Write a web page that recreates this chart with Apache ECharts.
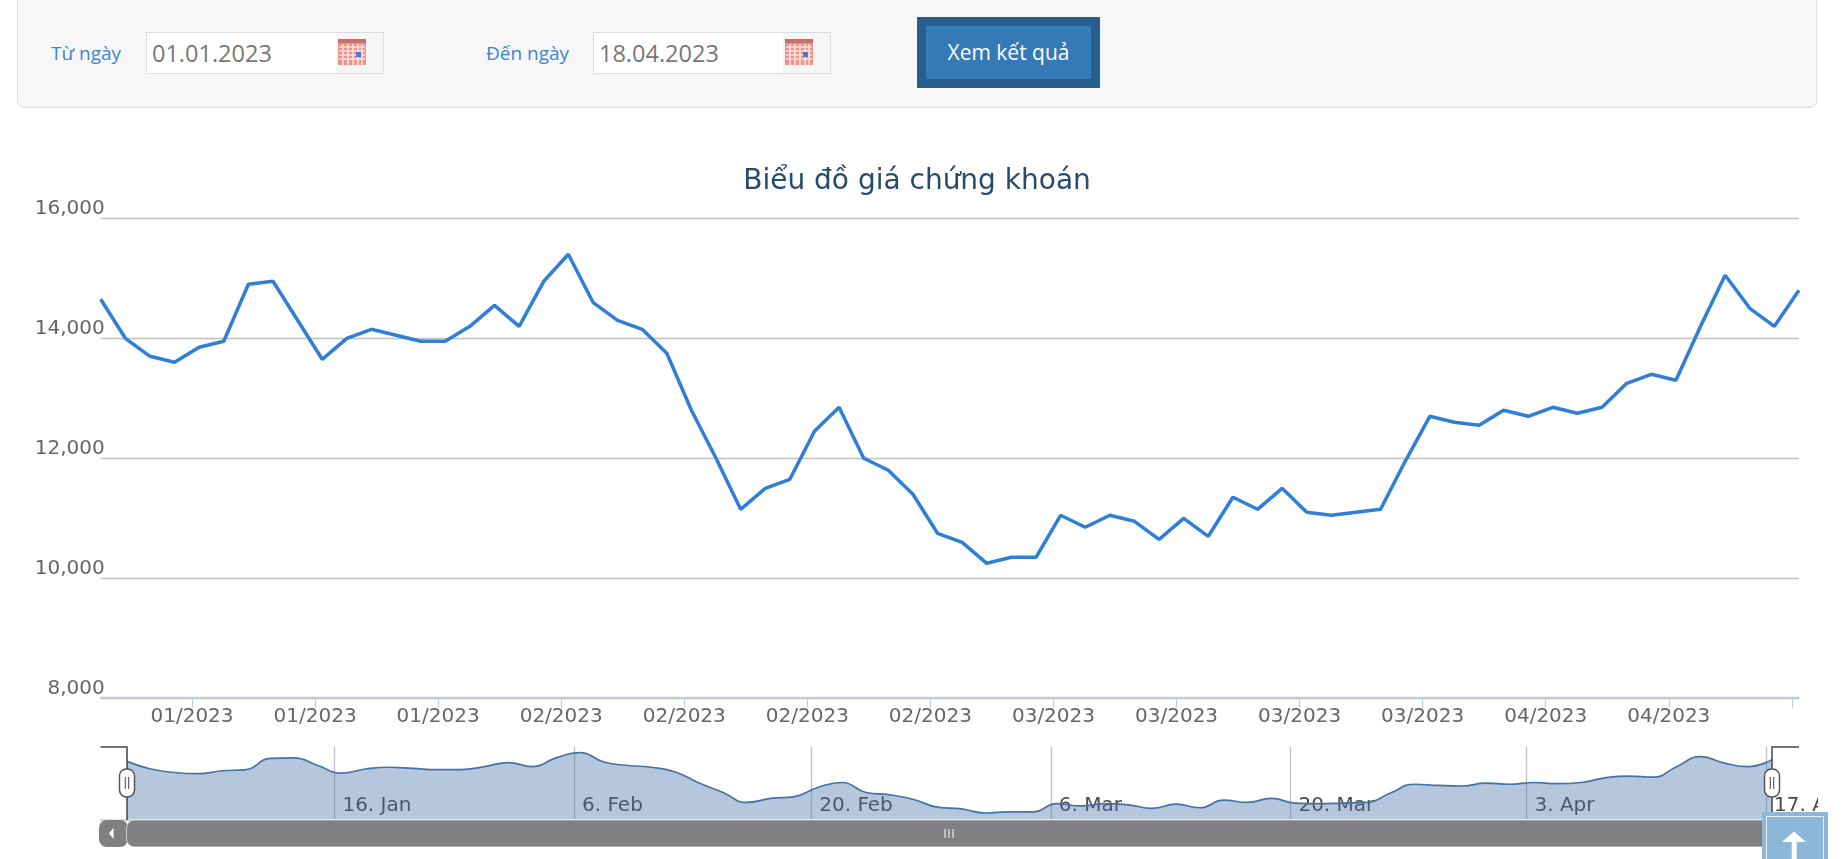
<!DOCTYPE html>
<html lang="vi">
<head>
<meta charset="UTF-8">
<title>Biểu đồ giá chứng khoán</title>
<style>
    html, body { margin: 0; padding: 0; background: #fff; overflow: hidden; }
    body { width: 1845px; height: 859px; position: relative; font-family: "Open Sans", "Noto Sans", sans-serif; }
    #filter { position: absolute; left: 17px; top: -10px; width: 1798px; height: 116px; background: #f7f7f7;
        border: 1px solid #ddd; border-radius: 7px; }
    .lbl { position: absolute; top: 41px; font-size: 19px; line-height: 24px; color: #3a86d2; white-space: nowrap; }
    .inp { position: absolute; top: 32px; width: 236px; height: 40px; background: #fff; border: 1px solid #ddd;
        font-size: 23.5px; line-height: 40px; color: #777; text-indent: 5px; }
    .inp .cal { position: absolute; right: 0; top: 0; width: 47px; height: 40px; background: #f5f5f5; }
    .inp svg { position: absolute; left: 1px; top: 5px; }
    #btn { position: absolute; left: 917px; top: 17px; width: 165px; height: 53px; border: 9px solid #285e8e;
        background: #337ab7; color: #fff; font-size: 21px; line-height: 53px; text-align: center; }
    #main { position: absolute; left: 0; top: 0; width: 1818px; height: 859px; }
    #totop { position: absolute; left: 1762px; top: 812px; width: 66px; height: 47px; background: #8cb7d8; }
    #totop i { position: absolute; left: 4px; top: 4px; width: 56px; height: 60px; border: 1.5px solid #e4eff6; }
    #totop svg { position: absolute; left: 0; top: 0; }
</style>
</head>
<body>
<div id="main"></div>
<div id="filter"></div>
<div class="lbl" style="left:51px">Từ ngày</div>
<div class="inp" style="left:146px">01.01.2023<span class="cal"><svg width="30" height="28"><rect x="1" y="1" width="28" height="26" rx="1" fill="#ee938b"/><rect x="1" y="1" width="28" height="4" fill="#c9706a"/><path d="M2 9h26M2 13h26M2 17h26M2 21h26M6 6v21M11 6v21M16 6v21M21 6v21M25 6v21" stroke="#fde0dc" stroke-width="1.6"/><rect x="19" y="14" width="5" height="5" fill="#4a78d0"/></svg></span></div>
<div class="lbl" style="left:486px">Đến ngày</div>
<div class="inp" style="left:593px">18.04.2023<span class="cal"><svg width="30" height="28"><rect x="1" y="1" width="28" height="26" rx="1" fill="#ee938b"/><rect x="1" y="1" width="28" height="4" fill="#c9706a"/><path d="M2 9h26M2 13h26M2 17h26M2 21h26M6 6v21M11 6v21M16 6v21M21 6v21M25 6v21" stroke="#fde0dc" stroke-width="1.6"/><rect x="19" y="14" width="5" height="5" fill="#4a78d0"/></svg></span></div>
<div id="btn">Xem kết quả</div>
<div id="totop"><i></i><svg width="66" height="47"><path d="M32 19.5 L44 30 L34.7 30 L34.7 47 L29.7 47 L29.7 30 L20 30 Z" fill="#fff"/></svg></div>
<script src="https://cdn.jsdelivr.net/npm/echarts@6/dist/echarts.min.js"></script>
<script>
    var prices = [14650, 14000, 13700, 13600, 13850, 13950, 14900, 14950, 14300, 13650,
        14000, 14150, 14050, 13950, 13950, 14200, 14550, 14200, 14950, 15400,
        14600, 14300, 14150, 13750, 12800, 12000, 11150, 11500, 11650, 12450,
        12850, 12000, 11800, 11400, 10750, 10600, 10250, 10350, 10350, 11050,
        10850, 11050, 10950, 10650, 11000, 10700, 11350, 11150, 11500, 11100,
        11050, 11100, 11150, 11950, 12700, 12600, 12550, 12800, 12700, 12850,
        12750, 12850, 13250, 13400, 13300, 14200, 15050, 14500, 14200, 14800];
    // truc thoi gian dang ordinal nen tick khong trung diem du lieu
    var xTicks = [3.71, 8.71, 13.71, 18.71, 23.71, 28.71, 33.71, 38.71, 43.71, 48.71, 53.71, 58.71, 63.71, 68.71];
    var xLabels = ['01/2023', '01/2023', '01/2023', '02/2023', '02/2023', '02/2023', '02/2023',
        '03/2023', '03/2023', '03/2023', '03/2023', '04/2023', '04/2023'];
    var navTicks = [8.7, 18.75, 28.7, 38.75, 48.8, 58.7, 68.75];
    var navLabels = ['16. Jan', '6. Feb', '20. Feb', '6. Mar', '20. Mar', '3. Apr', '17. Apr'];

    var axisFont = '"DejaVu Sans", sans-serif';
    var lineData = prices.map(function (v, i) { return [i, v]; });

    var myChart = echarts.init(document.getElementById('main'));

    function handle(x) {
        return [
            { type: 'rect', shape: { x: x - 7.5, y: 769, width: 15, height: 28, r: 7 }, style: { fill: '#fff', stroke: '#555', lineWidth: 1.5 }, z: 20 },
            { type: 'line', shape: { x1: x - 1.7, y1: 777, x2: x - 1.7, y2: 789 }, style: { stroke: '#555', lineWidth: 1.1 }, z: 21 },
            { type: 'line', shape: { x1: x + 1.7, y1: 777, x2: x + 1.7, y2: 789 }, style: { stroke: '#555', lineWidth: 1.1 }, z: 21 }
        ];
    }

    var option = {
        animation: false,
        title: {
            text: 'Biểu đồ giá chứng khoán',
            left: 912, top: 177, textAlign: 'center', textVerticalAlign: 'middle',
            textStyle: { color: '#274b6d', fontFamily: axisFont, fontSize: 28, fontWeight: 'normal' }
        },
        grid: [
            { left: 100.7, right: 19, top: 218.3, height: 480, outerBoundsMode: 'none' },
            { left: 127, right: 46, top: 747, height: 72, outerBoundsMode: 'none' }
        ],
        xAxis: [{
            type: 'value', gridIndex: 0, min: 0, max: 69, offset: -1.5,
            splitLine: { show: false },
            axisLine: { onZero: false, lineStyle: { color: '#c0d0e0', width: 1.4 } },
            axisTick: { length: 11, customValues: xTicks, lineStyle: { color: '#c0d0e0', width: 1.3 } },
            axisLabel: {
                customValues: xTicks.slice(0, xLabels.length), margin: 10, hideOverlap: false,
                color: '#666', fontFamily: axisFont, fontSize: 20,
                formatter: function (v) { return xLabels[xTicks.indexOf(v)]; }
            }
        }, {
            // vach va nhan cua navigator
            type: 'value', gridIndex: 1, min: 0, max: 69,
            axisLine: { show: false },
            axisTick: { show: true, inside: true, length: 72, customValues: navTicks, lineStyle: { color: '#c0c0c0', width: 1.3 } },
            splitLine: { show: false },
            axisLabel: {
                inside: true, customValues: navTicks, margin: 3, align: 'left', padding: [0, 0, 0, 8],
                color: '#4a4a4a', fontFamily: axisFont, fontSize: 20, showMaxLabel: true, hideOverlap: false,
                formatter: function (v) { return navLabels[navTicks.indexOf(v)]; }
            }
        }],
        yAxis: [{
            type: 'value', gridIndex: 0, min: 8000, max: 16000, interval: 2000,
            axisLine: { show: false },
            axisTick: { show: false },
            splitLine: { lineStyle: { color: '#c0c0c0', width: 1.3 } },
            axisLabel: {
                color: '#666', fontFamily: axisFont, fontSize: 20, margin: -4, verticalAlign: 'bottom', lineHeight: 20,
                formatter: function (v) { return v.toLocaleString('en-US'); }
            }
        }, {
            type: 'value', gridIndex: 1, min: 9740, max: 15875,
            axisLine: { show: false }, axisTick: { show: false },
            axisLabel: { show: false }, splitLine: { show: false }
        }],
        series: [{
            type: 'line', xAxisIndex: 0, yAxisIndex: 0, data: lineData, showSymbol: false,
            lineStyle: { color: '#2f7ed8', width: 3.5 }, clip: true
        }, {
            type: 'line', xAxisIndex: 1, yAxisIndex: 1, data: lineData, showSymbol: false, smooth: 0.5,
            lineStyle: { color: '#4572a7', width: 1.7 },
            areaStyle: { color: 'rgba(69,114,167,0.4)', opacity: 1 }, z: 5
        }],
        graphic: [
            // khung va thanh cuon navigator
            { type: 'polyline', shape: { points: [[100.7, 747], [127, 747], [127, 820]] }, style: { fill: null, stroke: '#444', lineWidth: 1.5 }, z: 15 },
            { type: 'polyline', shape: { points: [[1799, 747], [1772, 747], [1772, 820]] }, style: { fill: null, stroke: '#444', lineWidth: 1.5 }, z: 15 },
            { type: 'rect', shape: { x: 100, y: 819.5, width: 1699, height: 1.5 }, style: { fill: '#c4c4c4' }, z: 9 },
            { type: 'rect', shape: { x: 99, y: 820, width: 29, height: 27, r: 8 }, style: { fill: '#808080' }, z: 10 },
            { type: 'rect', shape: { x: 126.5, y: 820, width: 1645.5, height: 27, r: 8 }, style: { fill: '#808080', stroke: '#fff', lineWidth: 0.6 }, z: 11 },
            { type: 'polygon', shape: { points: [[113.5, 828], [113.5, 839], [109, 833.5]] }, style: { fill: '#fff' }, z: 12 },
            { type: 'line', shape: { x1: 945, y1: 829, x2: 945, y2: 838 }, style: { stroke: '#fff', lineWidth: 1 }, z: 12 },
            { type: 'line', shape: { x1: 949, y1: 829, x2: 949, y2: 838 }, style: { stroke: '#fff', lineWidth: 1 }, z: 12 },
            { type: 'line', shape: { x1: 953, y1: 829, x2: 953, y2: 838 }, style: { stroke: '#fff', lineWidth: 1 }, z: 12 }
        ].concat(handle(127), handle(1772))
    };
    myChart.setOption(option);
</script>
</body>
</html>
